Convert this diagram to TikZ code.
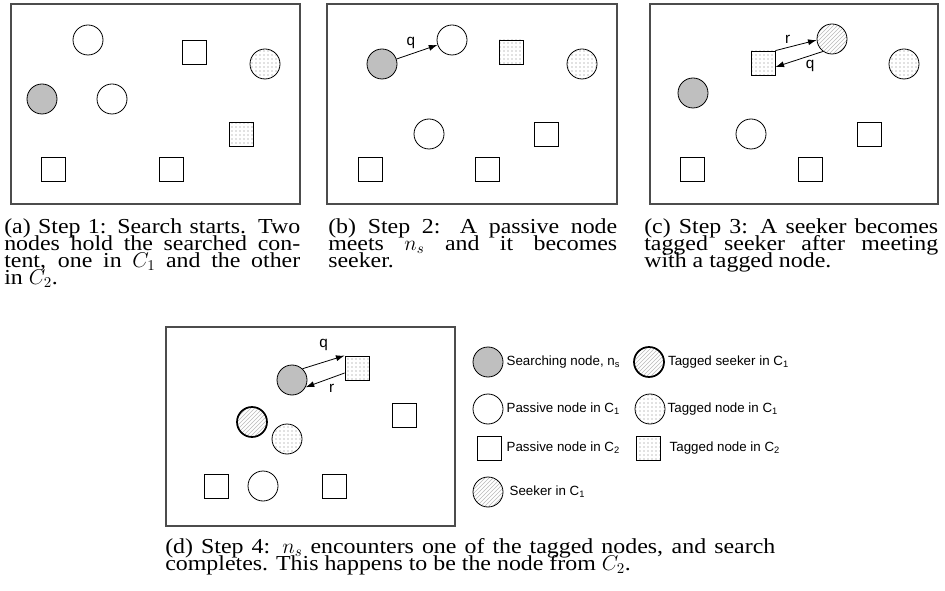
\RequirePackage{fix-cm}
\documentclass[tikz,border=0pt]{standalone}
\usepackage[no-math]{fontspec}
\setmainfont{Liberation Serif}
\setsansfont{Liberation Sans}
\newfontfamily\capserif[FakeStretch=1.12]{Liberation Serif}
\usetikzlibrary{positioning,patterns,arrows.meta}
\newcommand\capfont{\capserif\fontsize{16}{12.9}\selectfont\lineskiplimit=-100pt\hbadness=10000}
\newcommand\legfont{\sffamily\fontsize{10}{12}\selectfont}
\newcommand\msgfont{\sffamily\fontsize{11.5}{13}\selectfont}
\begin{document}
\begin{tikzpicture}[x=0.75pt,y=0.75pt,
    every node/.style={inner sep=0pt},
    panel/.style={draw=black!70, line width=0.8pt},
    passive/.style={circle, draw, minimum size=22.5pt, line width=0.6pt},
    searching/.style={passive, fill=gray!50},
    seeker/.style={passive, pattern=north east lines, pattern color=gray!55},
    tseeker/.style={seeker, line width=1.3pt},
    tagone/.style={passive, pattern=dots, pattern color=gray},
    cell/.style={rectangle, draw, minimum size=18pt, line width=0.6pt},
    tagtwo/.style={cell, pattern=dots, pattern color=gray},
    msg/.style={-{Latex[length=6.5pt,width=4.5pt]}, line width=0.6pt},
    lab/.style={font=\msgfont},
    legend/.style={font=\legfont},
    caption/.style={anchor=north west, align=justify, font=\capfont}]
    \useasboundingbox (0,0) rectangle (945,-591);
    \draw[panel] (11,-4) rectangle (300,-204);
    \draw[panel] (327,-4) rectangle (617,-204);
    \draw[panel] (650,-4) rectangle (938,-204);
    \draw[panel] (166,-327) rectangle (455,-526);
    % step 1
    \node[passive] (a-p1) at (88,-40) {};
    \node[searching] (a-ns) at (42,-99) {};
    \node[passive] (a-p2) at (112,-99) {};
    \node[tagone] (a-t1) at (265,-64) {};
    \node[cell] (a-c1) at (194,-52) {};
    \node[tagtwo] (a-t2) at (241,-134) {};
    \node[cell] (a-c2) at (53,-169) {};
    \node[cell] (a-c3) at (171,-169) {};
    % step 2
    \node[searching] (b-ns) at (382,-64) {};
    \node[passive] (b-p1) at (452,-40) {};
    \node[tagtwo] (b-t2) at (511,-52) {};
    \node[tagone] (b-t1) at (582,-64) {};
    \node[passive] (b-p2) at (429,-134) {};
    \node[cell] (b-c1) at (546,-134) {};
    \node[cell] (b-c2) at (370,-169) {};
    \node[cell] (b-c3) at (487,-169) {};
    \draw[msg] (b-ns) -- node[lab, above=4pt, pos=0.35] {q} (b-p1);
    % step 3
    \node[seeker] (c-sk) at (832,-39) {};
    \node[tagtwo] (c-t2) at (763,-63) {};
    \node[tagone] (c-t1) at (904,-64) {};
    \node[searching] (c-ns) at (693,-93) {};
    \node[passive] (c-p1) at (751,-134) {};
    \node[cell] (c-c1) at (869,-134) {};
    \node[cell] (c-c2) at (692,-169) {};
    \node[cell] (c-c3) at (810,-169) {};
    \draw[msg] (c-t2.north east) -- node[lab, above=3pt, pos=0.3] {r} (c-sk.184);
    \draw[msg] (c-sk.234) -- node[lab, below=3.5pt, pos=0.27] {q} ([yshift=-3pt]c-t2.east);
    % step 4
    \node[searching] (d-ns) at (292,-380) {};
    \node[tagtwo] (d-t2) at (357,-368) {};
    \node[tseeker] (d-sk) at (252,-422) {};
    \node[tagone] (d-t1) at (287,-439) {};
    \node[cell] (d-c1) at (404,-415) {};
    \node[cell] (d-c2) at (216,-486) {};
    \node[passive] (d-p1) at (263,-486) {};
    \node[cell] (d-c3) at (334,-486) {};
    \draw[msg] (d-ns.47) -- node[lab, above=8pt] {q} (d-t2.north west);
    \draw[msg] ([yshift=-3.75pt]d-t2.west) -- node[lab, below=4.5pt, pos=0.33] {r} (d-ns.-28);
    % legend
    \node[searching] (l-ns) at (488,-362) {};
    \node[legend, right=2.25pt of l-ns] {Searching node, n\textsubscript{s}};
    \node[passive] (l-p1) at (488,-409) {};
    \node[legend, right=2.25pt of l-p1] {Passive node in C\textsubscript{1}};
    \node[cell] (l-c) at (489,-448) {};
    \node[legend, right=3.75pt of l-c] {Passive node in C\textsubscript{2}};
    \node[seeker] (l-sk) at (488,-492) {};
    \node[legend, right=4.5pt of l-sk] {Seeker in C\textsubscript{1}};
    \node[tseeker] (l-ts) at (649,-362) {};
    \node[legend, right=2.25pt of l-ts] {Tagged seeker in C\textsubscript{1}};
    \node[tagone] (l-t1) at (650,-409) {};
    \node[legend, right=1.5pt of l-t1] {Tagged node in C\textsubscript{1}};
    \node[tagtwo] (l-t2) at (648,-448) {};
    \node[legend, right=6.75pt of l-t2] {Tagged node in C\textsubscript{2}};
    % captions
    \node[caption, text width=222pt] (cap-a) at (4,-218) {(a) Step 1: Search starts. Two\linebreak nodes hold the searched con-\linebreak tent, one in $C_1$ and the other\linebreak in $C_2$.};
    \node[caption, text width=216.75pt] (cap-b) at (328,-218) {(b) Step 2: A passive node\linebreak meets $n_s$ and it becomes\linebreak seeker.};
    \node[caption, text width=220.5pt] (cap-c) at (644,-218) {(c) Step 3: A seeker becomes\linebreak tagged seeker after meeting\linebreak with a tagged node.};
    \node[caption, text width=457.5pt] (cap-d) at (165,-538) {(d) Step 4: $n_s$ encounters one of the tagged nodes, and search\linebreak completes. This happens to be the node from $C_2$.};
\end{tikzpicture}
\end{document}
